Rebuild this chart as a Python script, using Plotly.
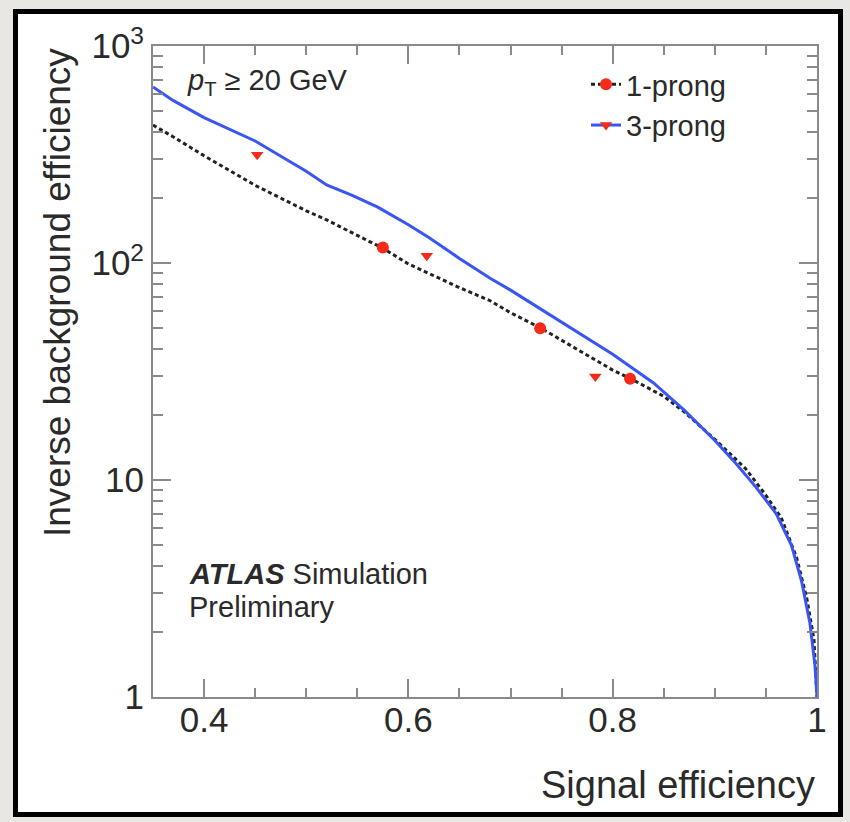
import plotly.graph_objects as go

# ---- data ----
eff_1p = [0.35, 0.37, 0.40, 0.45, 0.50, 0.52, 0.55, 0.575, 0.60, 0.65, 0.68, 0.70, 0.73,
          0.76, 0.80, 0.82, 0.85, 0.87, 0.90, 0.93, 0.95, 0.965, 0.98, 0.99, 0.997, 1.0]
rej_1p = [432, 381, 312, 228, 174, 158, 134, 117, 99, 77, 67, 59, 50,
          41.3, 32.1, 28.9, 24.3, 20.6, 15.4, 11.3, 8.5, 6.7, 4.4, 2.85, 1.85, 1.0]

eff_3p = [0.35, 0.37, 0.40, 0.45, 0.50, 0.52, 0.545, 0.57, 0.60, 0.62, 0.65, 0.68, 0.70,
          0.73, 0.76, 0.80, 0.84, 0.87, 0.90, 0.92, 0.94, 0.96, 0.975, 0.985, 0.993, 0.998, 1.0]
rej_3p = [647, 560, 468, 365, 265, 229, 205, 181, 150, 131, 105, 85, 75,
          61, 50, 38, 28, 21, 15.2, 12.0, 9.3, 7.0, 5.0, 3.4, 2.2, 1.4, 1.0]

wp_eff_1p = [0.575, 0.729, 0.817]
wp_rej_1p = [118, 50, 29.3]
wp_eff_3p = [0.452, 0.618, 0.783]
wp_rej_3p = [315, 108, 30]

x_tickvals = [0.4, 0.6, 0.8, 1.0]
x_ticktext = ["0.4", "0.6", "0.8", "1"]
y_tickvals = [1, 10, 100, 1000]
y_ticktext = ["1", "10", "10<sup>2</sup>", "10<sup>3</sup>"]
x_minor = [0.35 + 0.05 * i for i in range(14)]
y_minor = [m * 10 ** d for d in range(3) for m in range(2, 10)]

series_names = ["1-prong", "3-prong"]

# ---- style ----
BLACK_LINE = "#222222"
BLUE = "#3a55f5"
RED = "#f52a1a"
AXIS = "#8a8a8a"
TEXT = "#2a2a2a"
BG = "#e9e7e3"
FONT = "Liberation Sans, Arial, Helvetica, sans-serif"

W, H = 850, 822
L, R, T, B = 153, 817, 46, 697  # plot area in pixels


def px(xp):
    return (xp - L) / (R - L)


def py(yp):
    return (B - yp) / (B - T)


fig = go.Figure()

fig.add_trace(go.Scatter(x=eff_1p, y=rej_1p, mode="lines", showlegend=False,
                         line=dict(color=BLACK_LINE, width=3, dash="4px,3px")))
fig.add_trace(go.Scatter(x=eff_3p, y=rej_3p, mode="lines", showlegend=False,
                         line=dict(color=BLUE, width=3)))
fig.add_trace(go.Scatter(x=wp_eff_1p, y=wp_rej_1p, mode="markers", showlegend=False,
                         marker=dict(color=RED, size=12, symbol="circle")))
fig.add_trace(go.Scatter(x=wp_eff_3p, y=wp_rej_3p, mode="markers", showlegend=False,
                         marker=dict(color=RED, size=11, symbol="triangle-down")))

# legend entries
fig.add_trace(go.Scatter(x=[None], y=[None], mode="lines+markers", name=series_names[0],
                         line=dict(color=BLACK_LINE, width=3, dash="4px,3px"),
                         marker=dict(color=RED, size=12, symbol="circle")))
fig.add_trace(go.Scatter(x=[None], y=[None], mode="lines+markers", name=series_names[1],
                         line=dict(color=BLUE, width=3),
                         marker=dict(color=RED, size=11, symbol="triangle-down")))

axis_common = dict(showline=True, linecolor=AXIS, linewidth=2, mirror="ticks",
                   ticks="inside", tickcolor=AXIS, tickwidth=2, ticklen=18,
                   showgrid=False, zeroline=False,
                   tickfont=dict(family=FONT, size=35, color=TEXT))

fig.update_xaxes(range=[0.35, 1.0], tickmode="array", tickvals=x_tickvals,
                 ticktext=x_ticktext, ticklabelstandoff=-9,
                 minor=dict(ticks="inside", ticklen=9, tickcolor=AXIS, tickwidth=2,
                            tickmode="array", tickvals=x_minor, showgrid=False),
                 **axis_common)
fig.update_yaxes(type="log", range=[0, 3], tickmode="array", tickvals=y_tickvals,
                 ticktext=y_ticktext,
                 minor=dict(ticks="inside", ticklen=10, tickcolor=AXIS, tickwidth=2,
                            tickmode="array", tickvals=y_minor, showgrid=False),
                 **axis_common)

# outer frame
fig.add_shape(type="rect", xref="paper", yref="paper", layer="below",
              x0=px(15.5), x1=px(840.5), y0=py(814.5), y1=py(11.5),
              fillcolor="white", line=dict(color="black", width=5))

ann_font = dict(family=FONT, color=TEXT)
fig.add_annotation(xref="paper", yref="paper", x=1.0, y=py(785), xanchor="right",
                   yanchor="middle", showarrow=False, text="Signal efficiency",
                   font=dict(size=38, **ann_font))
fig.add_annotation(xref="paper", yref="paper", x=px(57), y=py(293), xanchor="center",
                   yanchor="middle", showarrow=False, textangle=-90,
                   text="Inverse background efficiency", font=dict(size=37, **ann_font))
fig.add_annotation(xref="paper", yref="paper", x=px(185), y=py(82), xanchor="left",
                   yanchor="middle", showarrow=False,
                   text="<i>p</i><sub>T</sub> ≥ 20 GeV", font=dict(size=29, **ann_font))
fig.add_annotation(xref="paper", yref="paper", x=px(187), y=py(574), xanchor="left",
                   yanchor="middle", showarrow=False,
                   text="<b><i>ATLAS</i></b> Simulation", font=dict(size=29, **ann_font))
fig.add_annotation(xref="paper", yref="paper", x=px(187), y=py(607), xanchor="left",
                   yanchor="middle", showarrow=False,
                   text="Preliminary", font=dict(size=29, **ann_font))

fig.update_layout(
    width=W, height=H,
    margin=dict(l=L, r=W - R, t=T, b=H - B),
    paper_bgcolor=BG,
    plot_bgcolor="rgba(0,0,0,0)",
    font=dict(family=FONT, color=TEXT),
    legend=dict(x=px(586), y=py(59), xanchor="left", yanchor="top",
                bgcolor="rgba(0,0,0,0)", font=dict(size=29, family=FONT, color=TEXT),
                itemwidth=30, tracegroupgap=0),
)

fig.write_html(
    "out.html",
    config={"displayModeBar": False},
    post_script="document.body.style.margin='0';"
                "document.body.style.background='" + BG + "';",
)
